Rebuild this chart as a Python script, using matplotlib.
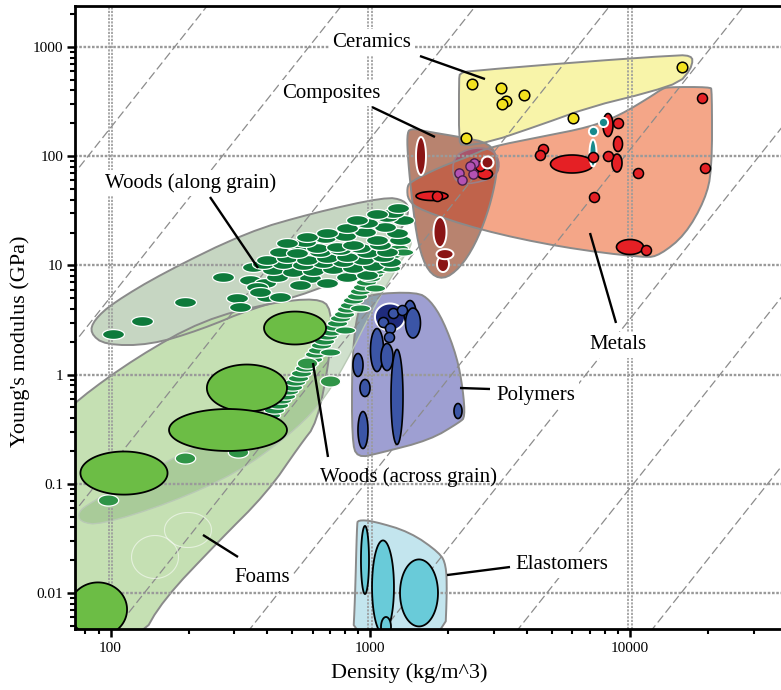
import numpy as np
import matplotlib
matplotlib.use("Agg")
import matplotlib.pyplot as plt
from matplotlib.patches import Polygon
from matplotlib.path import Path
from matplotlib import ticker
from matplotlib.transforms import offset_copy

plt.rcParams["font.family"] = ["Liberation Serif", "DejaVu Serif"]

# ---------------------------------------------------------------- envelopes
# Outline points of each material-family envelope: density (kg/m^3), modulus (GPa)
ceramics_env_rho = [2215, 2422, 6420, 15580, 17020, 17480, 17020, 15580, 11940, 7015, 4503, 2891, 2256, 2196, 2196]
ceramics_env_E = [578, 603, 729, 845, 827, 760, 616, 478, 387, 282, 193, 135, 124, 140.7, 499]

metals_env_rho = [1422, 1856, 2422, 2891, 4503, 7015, 9152, 11940, 13270, 14010, 20320, 20690, 20690,
                  19440, 16290, 13050, 11420, 5377, 2646, 1554, 1398, 1385]
metals_env_E = [58, 79.6, 100.4, 121.4, 150, 185, 238, 348, 412.5, 430, 430, 404, 74.7,
                39.7, 19.0, 12.45, 11.7, 14.7, 21.1, 32.2, 39.7, 51.1]

composites_env_rho = [1422, 1698, 2215, 2891, 3102, 3022, 2816, 2531, 2215, 1906, 1669, 1527, 1448, 1398, 1385]
composites_env_E = [181, 166.5, 150, 132, 92.3, 54.5, 28.9, 15.4, 9.47, 7.35, 8.7, 15.4, 39.7, 92.3, 156]

hybrid_env_rho = [2083, 2422, 2891, 3158, 3076, 2358, 2083]
hybrid_env_E = [98.3, 118.9, 118.9, 92.3, 64.5, 54.5, 60.6]

woods_along_env_rho = [83.4, 95.2, 141.9, 221, 353.7, 602, 937.8, 1302, 1422, 1349, 1140, 602, 335.4, 159.3, 102.2, 86.4]
woods_along_env_E = [2.40, 1.867, 1.867, 2.56, 4.07, 5.71, 9.47, 19.8, 32.2, 39.7, 42.3, 30.2, 20.2, 8.52, 4.53, 3.16]

foams_env_rho = [63.9, 74.3, 126.5, 227, 411, 624, 712, 700, 624, 536.6, 400, 257, 159.3, 129.9, 63.9]
foams_env_E = [0.384, 0.585, 1.45, 3.16, 4.53, 5.03, 4.07, 1.45, 0.360, 0.2266, 0.0824, 0.0287, 0.00863, 0.00371, 0.00371]

woods_across_env_rho = [76.3, 91.1, 169.5, 306.9, 478, 640.7, 799, 1043, 1302, 1448, 1422, 1302,
                        1140, 913, 731.5, 612.8, 411, 227, 126.5, 83.4, 75]
woods_across_env_E = [0.0447, 0.0420, 0.0667, 0.1256, 0.268, 0.527, 1.224, 4.34, 10.7, 15.4, 17.8, 18.6,
                      13.3, 6.61, 3.16, 1.75, 0.585, 0.236, 0.1154, 0.0667, 0.0552]

polymers_env_rho = [997.7, 1514, 1698, 1906, 2158, 2276, 2316, 2215, 1698, 1090, 889, 850.6, 850.6, 881, 929.6]
polymers_env_E = [5.47, 5.71, 4.82, 3.16, 1.45, 0.723, 0.409, 0.368, 0.252, 0.1915, 0.1723, 0.252, 1.277, 3.16, 4.62]

elastomers_env_rho = [897, 1025, 1422, 1856, 1957, 1975, 1940, 858, 873.5, 889]
elastomers_env_E = [0.0466, 0.0456, 0.0362, 0.0232, 0.01805, 0.01065, 0.00371, 0.00371, 0.00863, 0.042]

# ---------------------------------------------------------------- materials
ceramic_rho = [2465, 3187, 3908, 3331, 3216, 6034, 2336, 15860]
ceramic_E = [458, 421, 363, 320, 301, 224, 147, 656]

metal_rho_range = [(4943, 7237), (8522, 9317), (8642, 9358), (7870, 8602), (8872, 11272), (1500, 1992), (2588, 2955)]
metal_E_range = [(70.2, 102.6), (71.7, 104.7), (110.4, 151.5), (151.5, 246), (12.59, 17.27), (39.3, 47.5), (61.8, 76.3)]
metal_rho = [4624, 4503, 7205, 8228, 8991, 10735, 7268, 19440, 11525, 1807, 18930, 2646]
metal_E = [116, 102.6, 98.3, 100.4, 201, 70.2, 42.3, 78, 13.8, 43.2, 341, 81.3]

teal_rho_range = [(6985, 7431)]
teal_E_range = [(80.5, 142)]
teal_rho = [7870, 7205]
teal_E = [205.6, 170]

composite_rho_range = [(1500, 1639), (1752, 1966), (1807, 2010), (1799, 2092)]
composite_E_range = [(67.3, 150), (14.7, 27.7), (8.7, 12.2), (11.4, 14.1)]
composite_rho = [2816]
composite_E = [88.5]

hybrid_rho = [2196, 2256, 2487, 2508, 2422]
hybrid_E = [70.2, 60.6, 68.7, 86.6, 81.3]

wood_along_rho = [102, 132, 194, 271,
                  344.4, 393.3, 586.1, 835.6,
                  366, 307, 400, 449, 315, 376,
                  438, 537, 682, 814, 972,
                  354, 422, 504, 602, 719, 858, 1025, 1191,
                  386.5, 461.5, 551, 657.9, 785.6, 937.8, 1120,
                  400, 478, 571, 682, 814, 972, 1160,
                  449.3, 536.6, 640.7, 764.7, 913, 1090, 1302,
                  522, 624, 745, 858, 1062, 1268,
                  561, 669.8, 799.5, 954.6, 1140, 1337,
                  478, 571, 682, 814, 972, 1160, 1224,
                  889, 1062, 1279]
wood_along_E = [2.35, 3.10, 4.62, 7.83,
                7.35, 6.90, 7.67, 8.70,
                6.34, 5.03, 5.14, 5.14, 4.16, 5.71,
                7.83, 6.61, 6.90, 7.83, 8.17,
                9.67, 9.08, 8.70, 8.89, 9.27, 9.47, 9.87, 10.7,
                10.3, 10.3, 10.09, 10.52, 10.74, 11.2, 11.93,
                11.2, 11.7, 11.2, 11.7, 11.9, 13.0, 13.3,
                13.27, 13.8, 13.27, 13.8, 14.43, 15.4, 17.08,
                13.0, 14.4, 14.7, 15.4, 17.1, 19.8,
                16.38, 17.8, 18.6, 20.2, 22.5, 26.0,
                16.0, 18.2, 19.8, 22.0, 24.5, 27.7, 30.2,
                26.0, 29.6, 33.5]

wood_across_rho = [383, 396.9, 411, 426.1, 441.5, 453.3, 469.7, 482.4, 499.7, 513.2, 527, 541.2, 561, 576,
                   597, 612.8, 629.5, 646.3, 663.7, 681.6, 706.4, 725.3, 744.7, 764.7, 792.4, 813.8,
                   835.6, 858.3, 889, 913, 937.8, 963, 997.7, 1025, 1062, 1090, 1130, 1160, 1202, 1234,
                   1279, 700, 800, 913, 1043, 1191, 1337]
wood_across_E = [0.3455, 0.384, 0.4266, 0.474, 0.5267, 0.585, 0.637, 0.708, 0.77, 0.855, 0.931, 1.034,
                 1.149, 1.277, 1.39, 1.543, 1.68, 1.867, 2.03, 2.257, 2.455, 2.73, 2.97, 3.30, 3.59, 3.99,
                 4.34, 4.82, 5.25, 5.83, 6.34, 7.05, 7.67, 8.34, 9.08, 9.87, 10.74, 11.7, 12.45, 13.55,
                 14.43, 1.61, 2.56, 4.07, 6.21, 9.47, 13.27]
wood_across_single_rho = [97.8, 193.6, 309.7, 699.8, 570.8]
wood_across_single_E = [0.0711, 0.1723, 0.1955, 0.874, 1.277]

foam_rho_range = [(390, 676), (235, 478), (168, 478), (76.6, 165.8), (69.2, 115.8)]
foam_E_range = [(1.887, 3.78), (0.459, 1.237), (0.1998, 0.484), (0.0796, 0.1976), (0.0040, 0.0125)]
foam_faint_rho_range = [(120.5, 182.7), (161.4, 244.8)]
foam_faint_E_range = [(0.01358, 0.0336), (0.0261, 0.0546)]

polymer_dark_rho_range = [(1043, 1361)]
polymer_dark_E_range = [(2.53, 4.48)]
polymer_rho_range = [(1349, 1500), (1367, 1561), (1002, 1125), (1100, 1224), (1202, 1337), (858, 938),
                     (913, 998), (897, 980), (2101, 2256)]
polymer_E_range = [(2.82, 4.77), (2.164, 4.07), (1.067, 2.64), (1.09, 1.927), (0.229, 1.70), (0.961, 1.56),
                   (0.630, 0.902), (0.2105, 0.459), (0.396, 0.5436)]
polymer_rho = [1224, 1326, 1120, 1191, 1181]
polymer_E = [3.67, 3.90, 3.03, 2.67, 2.21]

elastomer_rho_range = [(921, 989), (1016, 1234), (1302, 1823), (1100, 1202)]
elastomer_E_range = [(0.00979, 0.0411), (0.00426, 0.0303), (0.00494, 0.0203), (0.00395, 0.00603)]

# guide lines  E = C * rho^3  (log10 C)
guide_log_c = [-3.74, -5.29, -6.84, -8.39, -9.94, -11.49, -13.04, -14.59]

# family labels and leader lines
label_text = ["Ceramics", "Composites", "Woods (along grain)", "Metals", "Polymers",
              "Woods (across grain)", "Foams", "Elastomers"]
label_rho = [1016, 706, 204, 8979, 4346, 1398, 383, 5473]
label_E = [1111, 379, 56.8, 1.867, 0.65, 0.1154, 0.01372, 0.01805]
label_boxed = [True, True, True, True, True, False, True, True]
leader_rho = [(1554, 2766), (1016, 1775), (241.6, 369.8), (7015, 8835), (2215, 2891), (602, 687.6), (227, 309.7), (1975, 3452)]
leader_E = [(827, 509), (282, 150), (42.3, 9.47), (19.8, 2.97), (0.754, 0.738), (1.277, 0.176), (0.034, 0.02137), (0.0146, 0.0173)]

# ---------------------------------------------------------------- figure
fig = plt.figure(figsize=(7.81, 6.90), dpi=100)
ax = fig.add_axes([75 / 781, 61 / 690, 706 / 781, 623 / 690])
ax.set_xscale("log")
ax.set_yscale("log")
ax.set_xlim(73.0, 38140)
ax.set_ylim(0.00468, 2375)

EDGE = "#8a8a8a"


def chaikin(pts, n):
    for _ in range(n):
        p = np.vstack([pts, pts[:1]])
        q = 0.75 * p[:-1] + 0.25 * p[1:]
        r = 0.25 * p[:-1] + 0.75 * p[1:]
        out = np.empty((2 * len(q), 2))
        out[0::2] = q
        out[1::2] = r
        pts = out
    return pts


def outline(rho, E, n=2):
    pts = np.column_stack([np.log10(rho), np.log10(E)])
    return 10 ** chaikin(pts, n)


def envelope(rho, E, fc, z=1.0, alpha=1.0, ec=EDGE, lw=1.4, n=2):
    verts = outline(rho, E, n)
    fill = Polygon(verts, closed=True, fc=fc, ec="none", alpha=alpha, zorder=z)
    ax.add_patch(fill)
    ax.add_patch(Polygon(verts, closed=True, fill=False, ec=ec, lw=lw, zorder=1.2))
    return fill


def overlap(rho, E, fc, clip_patch, n=2):
    p = Polygon(outline(rho, E, n), closed=True, fc=fc, ec="none", zorder=1.05)
    ax.add_patch(p)
    p.set_clip_path(clip_patch)


def range_ellipses(rho_r, E_r, fc, ec, lw, z):
    t = np.linspace(0, 2 * np.pi, 120)
    for (r0, r1), (e0, e1) in zip(rho_r, E_r):
        a0, a1 = np.log10([r0, r1])
        b0, b1 = np.log10([e0, e1])
        cx, cy = (a0 + a1) / 2, (b0 + b1) / 2
        rx, ry = (a1 - a0) / 2, (b1 - b0) / 2
        pts = np.column_stack([10 ** (cx + rx * np.cos(t)), 10 ** (cy + ry * np.sin(t))])
        ax.add_patch(Polygon(pts, closed=True, fc=fc, ec=ec, lw=lw, zorder=z))


def ellipse_marker(aspect):
    t = np.linspace(0, 2 * np.pi, 64)
    return Path(np.column_stack([np.cos(t), aspect * np.sin(t)]), closed=True)


# envelopes
envelope(woods_along_env_rho, woods_along_env_E, "#c3d4bf", alpha=0.95)
envelope(foams_env_rho, foams_env_E, "#bddca9", alpha=0.88)
metals_patch = envelope(metals_env_rho, metals_env_E, "#f4a688")
envelope(ceramics_env_rho, ceramics_env_E, "#f8f4a9", n=1)
overlap(ceramics_env_rho, ceramics_env_E, "#f5b96b", metals_patch, n=1)
envelope(composites_env_rho, composites_env_E, "#b8836f")
overlap(composites_env_rho, composites_env_E, "#c0634b", metals_patch)
envelope(hybrid_env_rho, hybrid_env_E, "#a8546b", ec="#9a8088", lw=1.2)
envelope(polymers_env_rho, polymers_env_E, "#9e9fd2")
envelope(elastomers_env_rho, elastomers_env_E, "#c3e5ee")
envelope(woods_across_env_rho, woods_across_env_E, (0.44, 0.64, 0.40), alpha=0.33,
         ec="#b9c9b5", lw=1.0)

# grid (dotted; vertical lines drawn as a doubled trace)
for v in [0.01, 0.1, 1, 10, 100, 1000]:
    ax.axhline(v, color="#9a9a9a", lw=1.7, ls=(0, (1.1, 0.7)), zorder=1.3)
for v in [100, 1000, 10000]:
    for dx in (-1.8, 1.8):
        ax.plot([v, v], [0, 1], color="#9a9a9a", lw=1.2, ls=(0, (1.3, 0.8)), zorder=1.3,
                transform=offset_copy(ax.get_xaxis_transform(), fig=fig, x=dx, y=0, units="dots"))

# guide lines of constant E^(1/3)/rho
lx = np.array([1.7, 4.8])
for c in guide_log_c:
    ax.plot(10 ** lx, 10 ** (3 * lx + c), color="#8c8c8c", lw=0.9, ls=(0, (7, 3)), zorder=1.35)

# woods
ax.scatter(wood_across_rho, wood_across_E, s=215, marker=ellipse_marker(0.36), fc="#1d8a44",
           ec="white", lw=0.9, zorder=2.0)
ax.scatter(wood_along_rho, wood_along_E, s=250, marker=ellipse_marker(0.45), fc="#0e7a3b",
           ec="white", lw=0.9, zorder=2.01)
ax.scatter(wood_across_single_rho, wood_across_single_E, s=215, marker=ellipse_marker(0.55),
           fc="#2f9447", ec="white", lw=0.9, zorder=2.0)

# foams
range_ellipses(foam_faint_rho_range, foam_faint_E_range, "none", (1, 1, 1, 0.55), 0.8, 2.0)
range_ellipses(foam_rho_range, foam_E_range, "#6cbd45", "black", 1.3, 2.1)

# metals, composites, ceramics
range_ellipses(metal_rho_range, metal_E_range, "#e52025", "black", 1.2, 2.2)
range_ellipses(teal_rho_range, teal_E_range, "#178a8c", "white", 1.4, 2.25)
range_ellipses(composite_rho_range, composite_E_range, "#8a1515", "white", 1.4, 2.2)
ax.scatter(metal_rho, metal_E, s=52, fc="#e52025", ec="black", lw=1.1, zorder=2.3)
ax.scatter(teal_rho, teal_E, s=44, fc="#178a8c", ec="white", lw=1.4, zorder=2.35)
ax.scatter(hybrid_rho, hybrid_E, s=44, fc="#b352b4", ec="#4a1f4a", lw=1.0, zorder=2.3)
ax.scatter(composite_rho, composite_E, s=74, fc="#8a1515", ec="white", lw=1.5, zorder=2.4)
ax.scatter(ceramic_rho, ceramic_E, s=58, fc="#f2e21e", ec="black", lw=1.1, zorder=2.3)

# polymers and elastomers
range_ellipses(polymer_dark_rho_range, polymer_dark_E_range, "#1f2b7c", "white", 1.4, 2.2)
range_ellipses(polymer_rho_range, polymer_E_range, "#3b55a6", "black", 1.2, 2.25)
ax.scatter(polymer_rho, polymer_E, s=52, fc="#3b55a6", ec="black", lw=1.1, zorder=2.3)
range_ellipses(elastomer_rho_range, elastomer_E_range, "#69cbd9", "black", 1.3, 2.2)

# leader lines and family names
for (r0, r1), (e0, e1) in zip(leader_rho, leader_E):
    ax.plot([r0, r1], [e0, e1], color="black", lw=1.7, solid_capstyle="butt", zorder=3)
for txt, r, e, boxed in zip(label_text, label_rho, label_E, label_boxed):
    kw = {}
    if boxed:
        kw["bbox"] = dict(boxstyle="square,pad=0.15", fc="white", ec="none")
    ax.text(r, e, txt, fontsize=15, ha="center", va="center", zorder=4, **kw)

# axes styling
for side in ("left", "bottom", "top"):
    ax.spines[side].set_linewidth(2.0)
    ax.spines[side].set_zorder(5)
ax.spines["right"].set_visible(False)
ax.xaxis.set_major_locator(ticker.LogLocator(base=10))
ax.yaxis.set_major_locator(ticker.LogLocator(base=10, numticks=12))
ax.xaxis.set_minor_locator(ticker.LogLocator(base=10, subs=np.arange(2, 10)))
ax.yaxis.set_minor_locator(ticker.LogLocator(base=10, subs=np.arange(2, 10), numticks=12))
fmt = ticker.FuncFormatter(lambda v, _: f"{v:g}")
ax.xaxis.set_major_formatter(fmt)
ax.yaxis.set_major_formatter(fmt)
ax.xaxis.set_minor_formatter(ticker.NullFormatter())
ax.yaxis.set_minor_formatter(ticker.NullFormatter())
ax.tick_params(which="major", direction="out", length=5.5, width=1.8, labelsize=11, pad=3,
               top=False, right=False)
ax.tick_params(which="minor", direction="out", length=3.5, width=1.5, top=False, right=False)
ax.tick_params(axis="x", which="major", pad=4)

ax.set_xlabel("Density (kg/m^3)", fontsize=16, va="center")
ax.set_ylabel("Young's modulus (GPa)", fontsize=16, va="center")
ax.xaxis.set_label_coords(0.473, -0.0706)
ax.yaxis.set_label_coords(-0.078, 0.462)

fig.savefig("out.png", dpi=100, facecolor="white")
